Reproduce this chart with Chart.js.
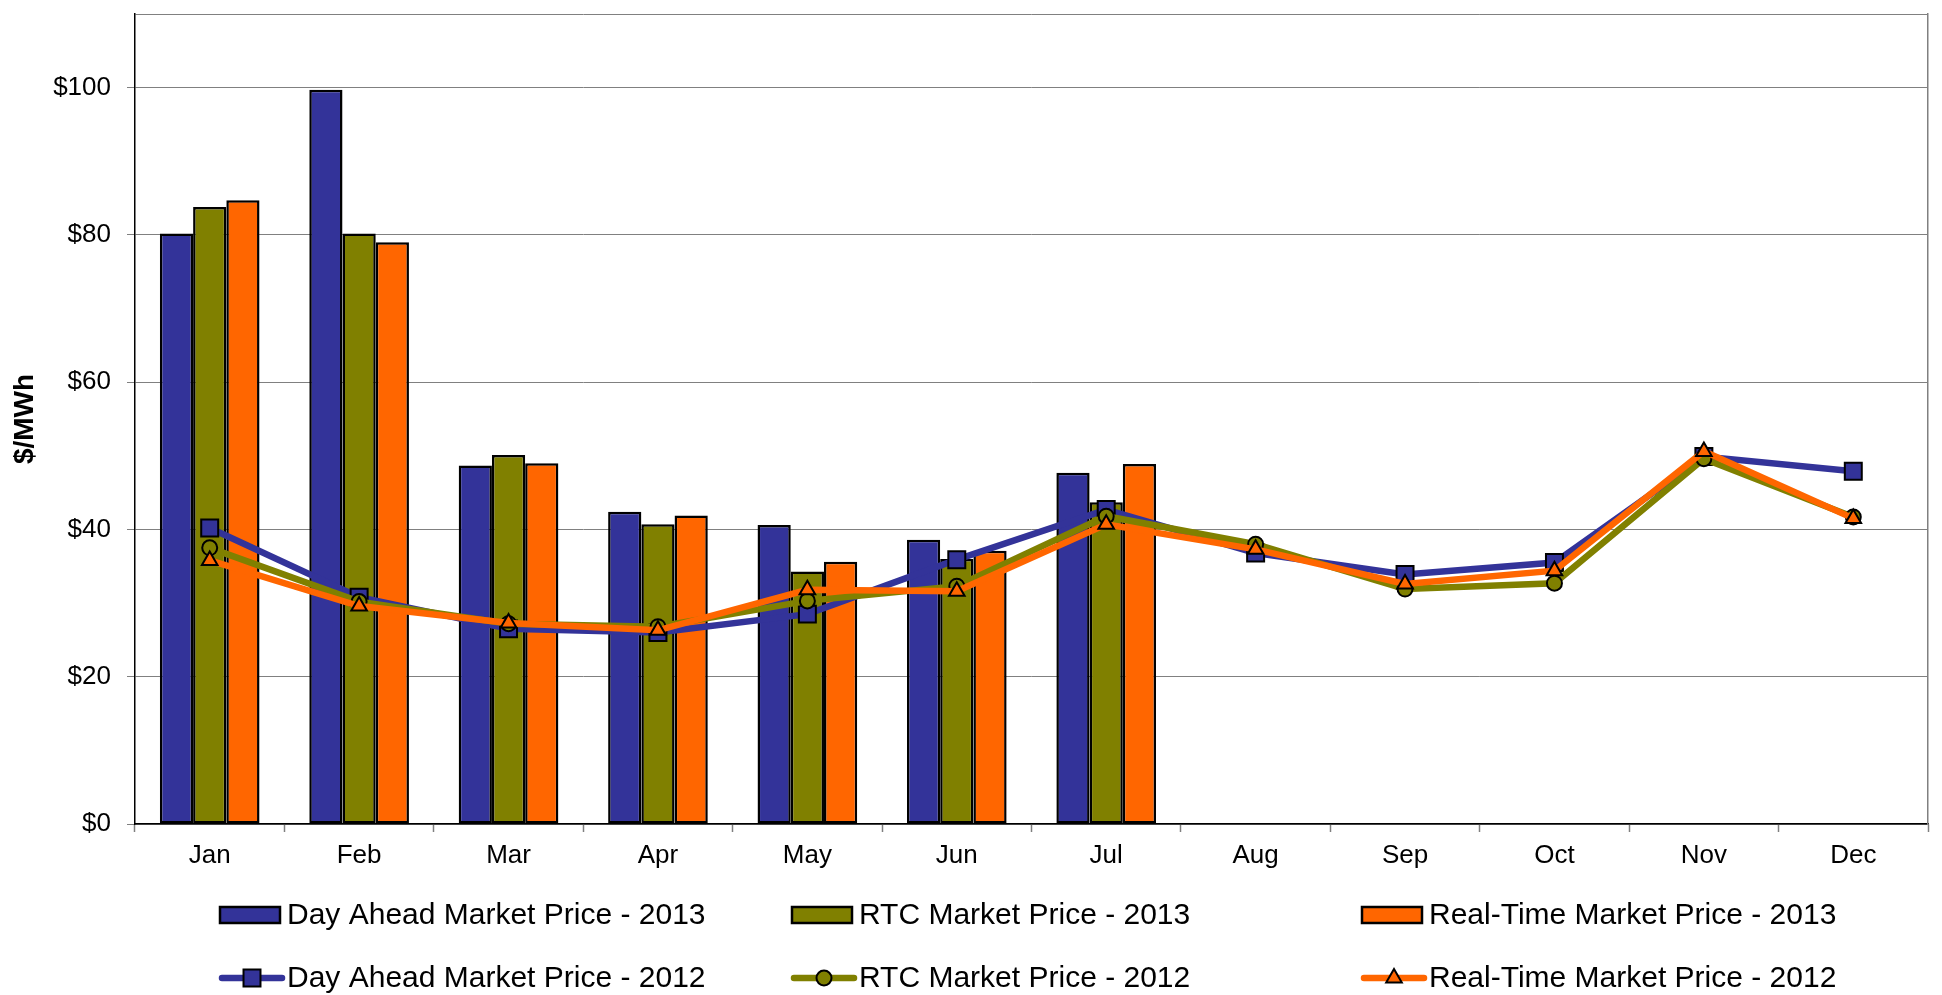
<!DOCTYPE html>
<html>
<head>
<meta charset="utf-8">
<script src="https://cdn.jsdelivr.net/npm/chart.js@4"></script>
<style>
  html, body { margin: 0; padding: 0; background: #fff; }
  #wrap { width: 1942px; height: 995px; position: relative; }
</style>
</head>
<body>
<div id="wrap"><canvas id="priceChart"></canvas></div>
<script>
const months = ['Jan', 'Feb', 'Mar', 'Apr', 'May', 'Jun', 'Jul', 'Aug', 'Sep', 'Oct', 'Nov', 'Dec'];

// 2013 monthly averages (bars)
const dayAhead2013 = [80.2, 99.7, 48.7, 42.4, 40.6, 38.6, 47.7];
const rtc2013 = [83.8, 80.2, 50.1, 40.7, 34.3, 36.0, 43.7];
const realTime2013 = [84.7, 79.0, 49.0, 41.9, 35.6, 37.1, 48.9];

// 2012 monthly averages (lines)
const dayAhead2012 = [40.2, 30.8, 26.5, 26.0, 28.5, 35.9, 42.7, 36.8, 33.9, 35.5, 49.9, 47.9];
const rtc2012 = [37.5, 30.2, 27.2, 26.8, 30.3, 32.3, 41.8, 38.0, 31.9, 32.7, 49.6, 41.7];
const realTime2012 = [35.8, 29.6, 27.3, 26.3, 31.8, 31.6, 40.7, 37.3, 32.6, 34.4, 50.6, 41.5];

const yTicks = [0, 20, 40, 60, 80, 100];

const BLUE = '#333399', OLIVE = '#808000', ORANGE = '#FF6600', GRID = '#808080';
const FONT = "'Liberation Sans', Arial, sans-serif";

Chart.defaults.font.family = FONT;
Chart.defaults.color = '#000';

function barSet(label, data, color) {
    return {
        type: 'bar', label: label, data: data,
        backgroundColor: color, borderColor: '#000', borderWidth: 2.5,
        borderSkipped: false, order: 4,
        categoryPercentage: 0.667, barPercentage: 1
    };
}
function lineSet(label, data, color, style, radius, order) {
    return {
        type: 'line', label: label, data: data,
        borderColor: color, borderWidth: 6.5, tension: 0,
        pointStyle: style, pointRadius: radius, pointHoverRadius: radius,
        pointBackgroundColor: color, pointBorderColor: '#000', pointBorderWidth: 2,
        order: order
    };
}

// legend laid out in a 3 x 2 grid under the axis, like the original
const gridLegend = {
    id: 'gridLegend',
    afterDraw(chart) {
        const ctx = chart.ctx;
        const cols = [220, 792, 1362];
        const rows = [915, 978];
        ctx.save();
        ctx.font = '30px ' + FONT;
        ctx.textBaseline = 'middle';
        chart.data.datasets.forEach((ds, i) => {
            const isBar = ds.type === 'bar';
            const x = cols[i % 3];
            const y = rows[isBar ? 0 : 1];
            if (isBar) {
                ctx.fillStyle = ds.backgroundColor;
                ctx.fillRect(x, y - 8, 60, 16);
                ctx.lineWidth = 2.5;
                ctx.strokeStyle = '#000';
                ctx.strokeRect(x, y - 8, 60, 16);
            } else {
                ctx.strokeStyle = ds.borderColor;
                ctx.lineWidth = 6.5;
                ctx.lineCap = 'round';
                ctx.beginPath();
                ctx.moveTo(x + 2, y);
                ctx.lineTo(x + 62, y);
                ctx.stroke();
                ctx.fillStyle = ds.pointBackgroundColor;
                ctx.strokeStyle = '#000';
                ctx.lineWidth = 2;
                Chart.helpers.drawPoint(ctx, {
                    pointStyle: ds.pointStyle, rotation: 0,
                    radius: ds.pointRadius, borderWidth: 2
                }, x + 32, y);
            }
            ctx.fillStyle = '#000';
            ctx.fillText(ds.label, x + 67, y + 1);
        });
        ctx.restore();
    }
};

new Chart(document.getElementById('priceChart'), {
    data: {
        labels: months,
        datasets: [
            barSet('Day Ahead Market Price - 2013', dayAhead2013, BLUE),
            barSet('RTC Market Price - 2013', rtc2013, OLIVE),
            barSet('Real-Time Market Price - 2013', realTime2013, ORANGE),
            lineSet('Day Ahead Market Price - 2012', dayAhead2012, BLUE, 'rect', 12, 3),
            lineSet('RTC Market Price - 2012', rtc2012, OLIVE, 'circle', 7.5, 2),
            lineSet('Real-Time Market Price - 2012', realTime2012, ORANGE, 'triangle', 9, 1)
        ]
    },
    options: {
        responsive: true,
        maintainAspectRatio: false,
        animation: false,
        events: [],
        layout: { padding: { top: 7, right: 0, bottom: 0, left: 0 } },
        plugins: {
            legend: { display: false },
            tooltip: { enabled: false }
        },
        scales: {
            x: {
                grid: { offset: true, drawOnChartArea: false, tickLength: 8, tickColor: GRID, tickWidth: 1.5 },
                border: { color: '#000', width: 1.5 },
                ticks: { font: { size: 26 }, padding: 8, maxRotation: 0 },
                afterFit(scale) { scale.height = 171; }
            },
            y: {
                min: 0, max: 110,
                afterBuildTicks(scale) {
                    scale.ticks = yTicks.map(v => ({ value: v })).concat([{ value: 110 }]);
                },
                grid: {
                    color: GRID, lineWidth: 1, tickLength: 8,
                    tickColor: c => (c.tick && c.tick.value === 110) ? 'rgba(0,0,0,0)' : GRID
                },
                border: { color: '#000', width: 1.5 },
                ticks: {
                    font: { size: 26 }, padding: 16,
                    callback: v => v === 110 ? '' : '$' + v
                },
                title: {
                    display: true, text: '$/MWh',
                    font: { size: 28, weight: 'bold' },
                    padding: { top: 8, bottom: 0 }
                },
                afterFit(scale) {
                    scale.width = 135;
                    scale.paddingTop = 0;
                    scale.paddingBottom = 0;
                }
            },
            yRight: {
                position: 'right', min: 0, max: 110,
                grid: { drawOnChartArea: false, drawTicks: false },
                border: { color: GRID, width: 1.5 },
                ticks: { display: false },
                afterFit(scale) {
                    scale.width = 7;
                    scale.paddingTop = 0;
                    scale.paddingBottom = 0;
                }
            }
        }
    },
    plugins: [gridLegend]
});
</script>
</body>
</html>
